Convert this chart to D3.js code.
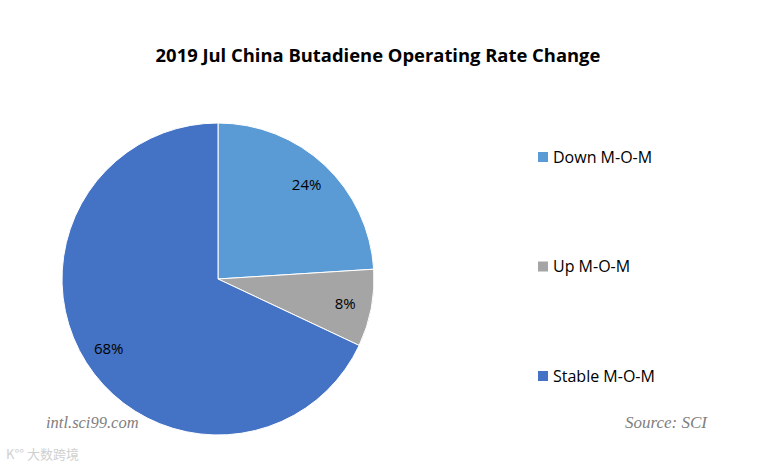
<!DOCTYPE html>
<html>
<head>
<meta charset="utf-8">
<script src="https://cdn.jsdelivr.net/npm/d3@7"></script>
<style>
  body { margin: 0; background: #fff; }
  text { font-family: "Open Sans", "Liberation Sans", sans-serif; }
</style>
</head>
<body>
<div id="chart"></div>
<script>
// data
var categories = ["Down M-O-M", "Up M-O-M", "Stable M-O-M"];
var shares = [24, 8, 68];
var colors = ["#5b9bd5", "#a5a5a5", "#4472c4"];

var svgWidth = 763;
var svgHeight = 471;

var svg = d3.select("#chart")
  .append("svg")
  .attr("width", svgWidth)
  .attr("height", svgHeight);

// title
svg.append("text")
  .attr("x", 378)
  .attr("y", 62)
  .attr("text-anchor", "middle")
  .style("font-size", "18.4px")
  .style("font-weight", "bold")
  .attr("fill", "#000")
  .text("2019 Jul China Butadiene Operating Rate Change");

// pie
var radius = 156;
var pieGroup = svg.append("g")
  .attr("transform", "translate(218, 279)");

var pie = d3.pie().sort(null).value(d => d);
var arc = d3.arc().innerRadius(0).outerRadius(radius);
var labelArc = d3.arc().innerRadius(radius * 0.83).outerRadius(radius * 0.83);

var arcs = pie(shares);

pieGroup.selectAll("path")
  .data(arcs)
  .enter()
  .append("path")
  .attr("d", arc)
  .attr("fill", (d, i) => colors[i])
  .attr("stroke", "#fff")
  .attr("stroke-width", 1);

pieGroup.selectAll("text.lbl")
  .data(arcs)
  .enter()
  .append("text")
  .attr("class", "lbl")
  .attr("transform", d => "translate(" + labelArc.centroid(d) + ")")
  .attr("text-anchor", "middle")
  .attr("dy", "0.35em")
  .style("font-size", "15px")
  .attr("fill", "#000")
  .text(d => d.data + "%");

// legend
var legendY = d3.scalePoint()
  .domain(categories)
  .range([157, 376]);

var legend = svg.selectAll("g.legend")
  .data(categories)
  .enter()
  .append("g")
  .attr("class", "legend")
  .attr("transform", d => "translate(538," + legendY(d) + ")");

legend.append("rect")
  .attr("x", 0)
  .attr("y", -5)
  .attr("width", 10)
  .attr("height", 10)
  .attr("fill", (d, i) => colors[i]);

legend.append("text")
  .attr("x", 15)
  .attr("dy", "0.35em")
  .style("font-size", "16px")
  .attr("fill", "#000")
  .text(d => d);

// footer texts
svg.append("text")
  .attr("x", 46)
  .attr("y", 428)
  .style("font-family", "'Liberation Serif', 'DejaVu Serif', serif")
  .style("font-style", "italic")
  .style("font-size", "16.5px")
  .attr("fill", "#808080")
  .text("intl.sci99.com");

svg.append("text")
  .attr("x", 707)
  .attr("y", 428)
  .attr("text-anchor", "end")
  .style("font-family", "'Liberation Serif', 'DejaVu Serif', serif")
  .style("font-style", "italic")
  .style("font-size", "17px")
  .attr("fill", "#808080")
  .text("Source: SCI");

// watermark
svg.append("text")
  .attr("x", 6)
  .attr("y", 459)
  .style("font-family", "'Noto Sans CJK SC', sans-serif")
  .style("font-size", "13px")
  .attr("fill", "#d0d0d0")
  .text("K°° 大数跨境");
</script>
</body>
</html>
